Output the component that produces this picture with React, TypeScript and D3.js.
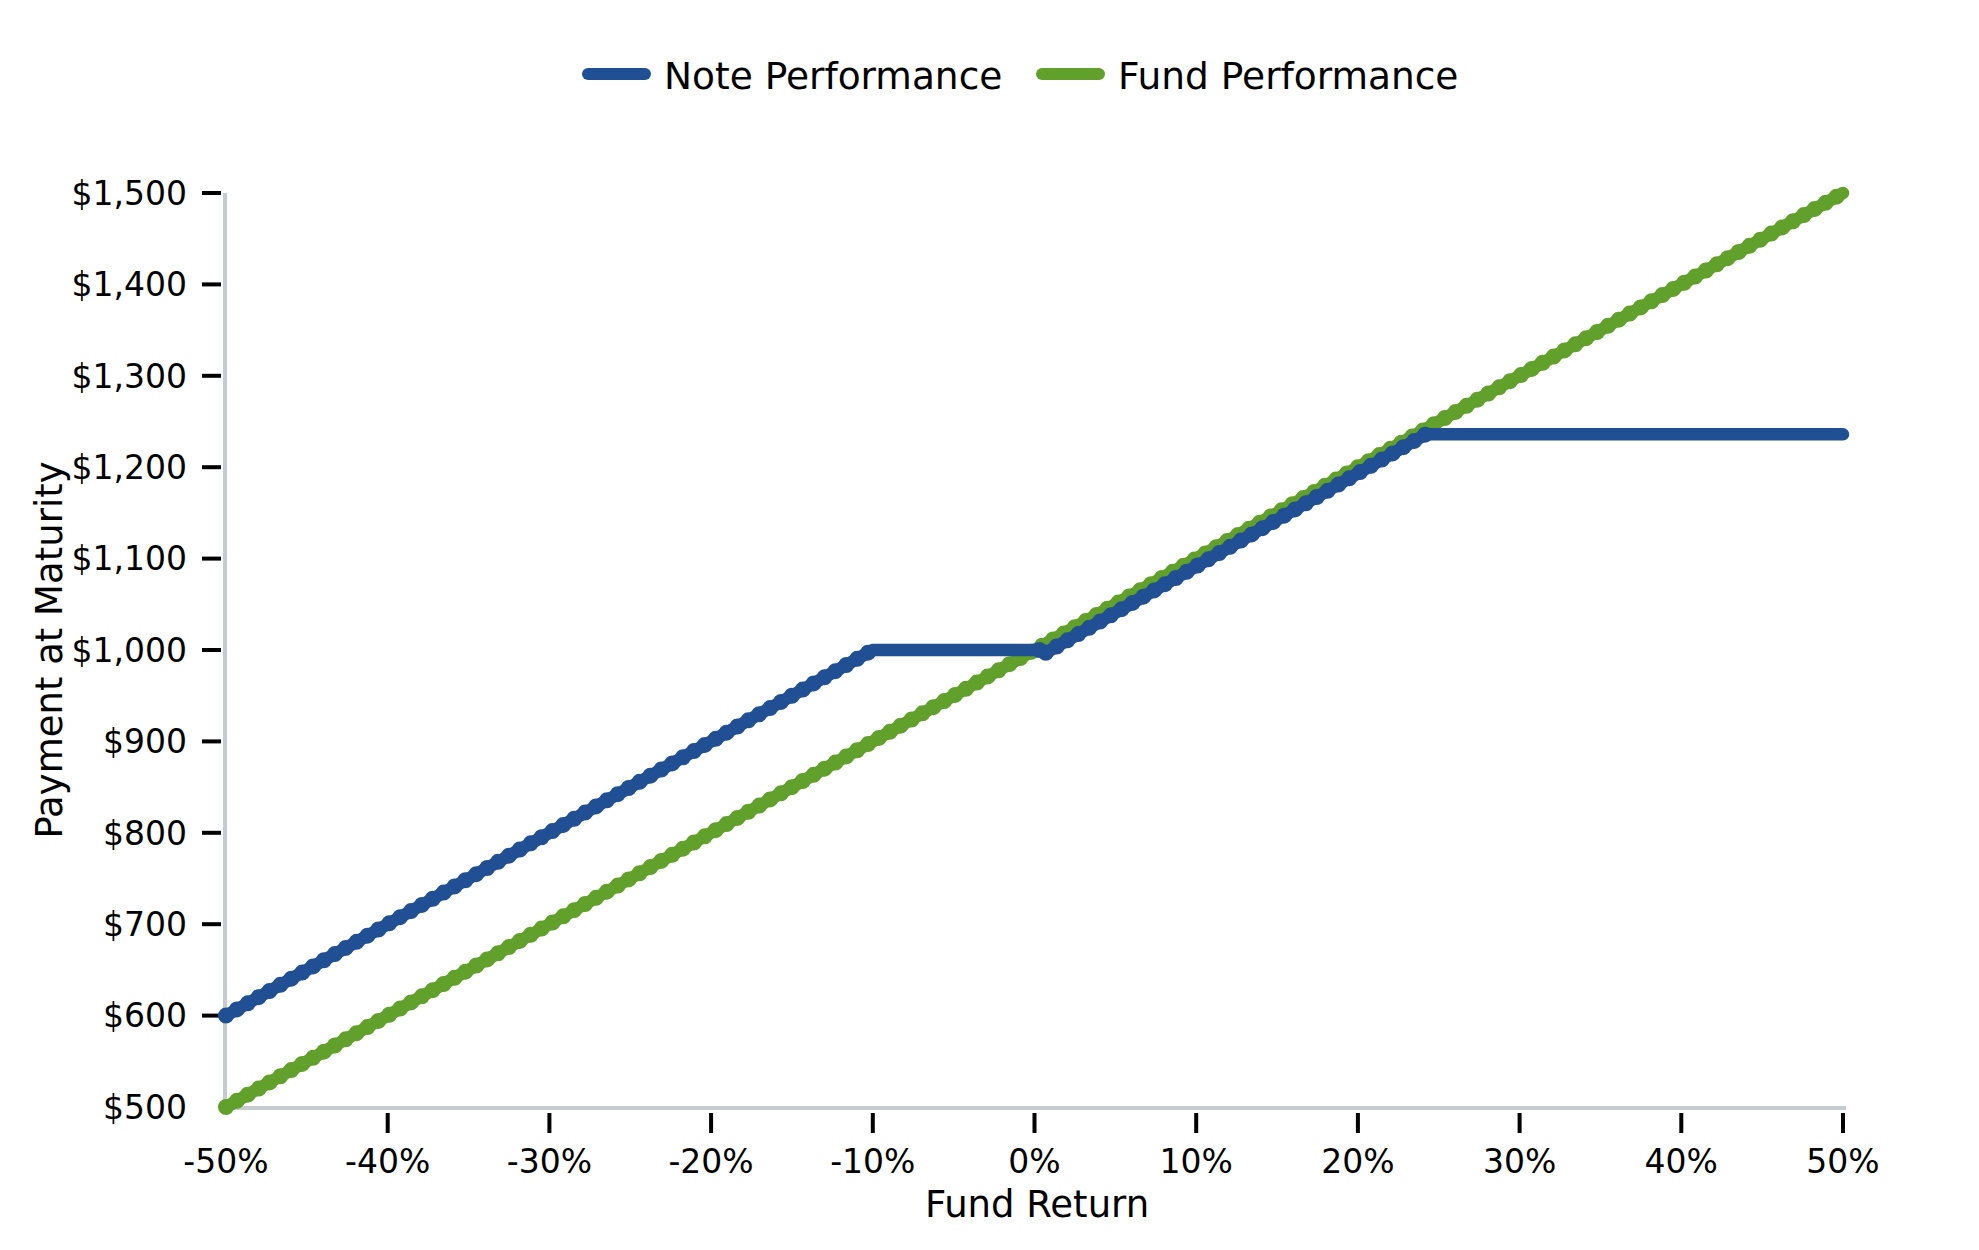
import React from "react";
import * as d3 from "d3";

const WIDTH = 1979;
const HEIGHT = 1250;

// fund return (%) and payment at maturity ($)
const noteReturns = [-50, -10, 0.3, 0.7, 24.2, 50];
const notePayments = [600, 1000, 1000, 997, 1236, 1236];
const fundReturns = [-50, 50];
const fundPayments = [500, 1500];

const xTicks = [-50, -40, -30, -20, -10, 0, 10, 20, 30, 40, 50];
const yTicks = [500, 600, 700, 800, 900, 1000, 1100, 1200, 1300, 1400, 1500];

const series = [
  { name: "Note Performance", color: "#214f94", xs: noteReturns, ys: notePayments },
  { name: "Fund Performance", color: "#62a02c", xs: fundReturns, ys: fundPayments },
];

const FONT = "DejaVu Sans, sans-serif";

export default function App() {
  const xScale = d3.scaleLinear().domain([-50, 50]).range([226, 1843]);
  const yScale = d3.scaleLinear().domain([500, 1500]).range([1107, 193]);

  const line = d3
    .line<[number, number]>()
    .x((d) => xScale(d[0]))
    .y((d) => yScale(d[1]));

  const fmtMoney = d3.format("$,");

  // draw fund first so note sits on top
  const drawOrder = [series[1], series[0]];

  return (
    <svg
      width={WIDTH}
      height={HEIGHT}
      style={{ position: "absolute", left: 0, top: 0, background: "#fff" }}
      fontFamily={FONT}
    >
      {/* axes */}
      <line x1={225} x2={225} y1={193} y2={1108} stroke="#c6cbd0" strokeWidth={4} />
      <line x1={224} x2={1846} y1={1108} y2={1108} stroke="#c6cbd0" strokeWidth={4} />

      {xTicks.map((t, i) => (
        <g key={"x" + t}>
          {i > 0 && (
            <line
              x1={xScale(t)}
              x2={xScale(t)}
              y1={1113}
              y2={1133}
              stroke="#000"
              strokeWidth={4}
            />
          )}
          <text x={xScale(t)} y={1173} fontSize={33} textAnchor="middle" fill="#000">
            {t + "%"}
          </text>
        </g>
      ))}

      {yTicks.map((t, i) => (
        <g key={"y" + t}>
          {i > 0 && (
            <line x1={202} x2={221} y1={yScale(t)} y2={yScale(t)} stroke="#000" strokeWidth={4} />
          )}
          <text
            x={187}
            y={yScale(t)}
            dy="0.36em"
            fontSize={33}
            textAnchor="end"
            fill="#000"
          >
            {fmtMoney(t)}
          </text>
        </g>
      ))}

      <text x={1037} y={1217} fontSize={37} textAnchor="middle" fill="#000">
        Fund Return
      </text>
      <text
        transform="translate(62, 650) rotate(-90)"
        fontSize={37}
        textAnchor="middle"
        fill="#000"
      >
        Payment at Maturity
      </text>

      {/* series lines */}
      {drawOrder.map((s) => {
        const pts = s.xs.map((x, i) => [x, s.ys[i]] as [number, number]);
        const sloped = pts
          .slice(1)
          .map((p, i) => [pts[i], p] as [number, number][])
          .filter((seg) => seg[0][1] !== seg[1][1]);
        return (
          <g key={s.name}>
            <path
              d={line(pts) ?? ""}
              fill="none"
              stroke={s.color}
              strokeWidth={12.5}
              strokeLinejoin="round"
              strokeLinecap="round"
            />
            {sloped.map((seg, i) => (
              <path
                key={i}
                d={line(seg) ?? ""}
                fill="none"
                stroke={s.color}
                strokeWidth={16}
                strokeDasharray="0 12.5"
                strokeLinecap="round"
              />
            ))}
          </g>
        );
      })}

      {/* legend */}
      {series.map((s, i) => {
        const x0 = i === 0 ? 588 : 1042;
        return (
          <g key={"leg" + s.name}>
            <line
              x1={x0}
              x2={x0 + 57}
              y1={74}
              y2={74}
              stroke={s.color}
              strokeWidth={12}
              strokeLinecap="round"
            />
            <text x={x0 + 76} y={89} fontSize={37.5} fill="#000">
              {s.name}
            </text>
          </g>
        );
      })}
    </svg>
  );
}
